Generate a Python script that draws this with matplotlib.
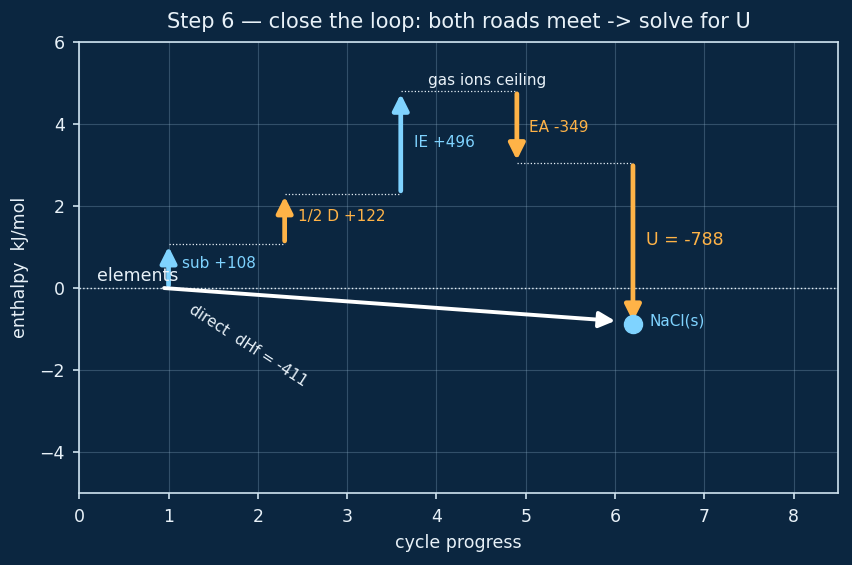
import matplotlib
matplotlib.use("Agg")
import matplotlib.pyplot as plt

BG = "#0b2640"
BLUE = "#7fd3ff"
ORANGE = "#ffb347"
FG = "#e8f1f8"

# step positions and energy levels (display units, compressed scale)
step_x = [1.0, 2.3, 3.6, 4.9, 6.2]
levels = [0.0, 1.08, 2.30, 4.80, 3.05, -0.88]
step_colors = [BLUE, ORANGE, BLUE, ORANGE, ORANGE]
step_labels = ["sub +108", "1/2 D +122", "IE +496", "EA -349", "U = -788"]
label_pos = [(1.15, 0.6), (2.45, 1.75), (3.75, 3.55), (5.04, 3.9), (6.35, 1.17)]
label_size = [11, 11, 11, 11, 12.5]

# direct route (elements -> NaCl)
direct_x = [0.95, 6.0]
direct_y = [0.0, -0.8]

plt.rcParams["font.family"] = ["DejaVu Sans"]
fig, ax = plt.subplots(figsize=(8.52, 5.65), dpi=100)
fig.patch.set_facecolor(BG)
ax.set_facecolor(BG)
fig.subplots_adjust(left=0.093, right=0.984, top=0.926, bottom=0.127)

ax.axhline(0, color=FG, lw=1.0, ls=":")

for i, x in enumerate(step_x):
    y0, y1 = levels[i], levels[i + 1]
    ax.annotate("", xy=(x, y1), xytext=(x, y0),
                arrowprops=dict(arrowstyle="-|>", color=step_colors[i], lw=3.4,
                                mutation_scale=24, shrinkA=2, shrinkB=2))
    ax.text(label_pos[i][0], label_pos[i][1], step_labels[i], color=step_colors[i],
            fontsize=label_size[i], va="center")
    if i < len(step_x) - 1:
        ax.plot([x, step_x[i + 1]], [y1, y1], color=FG, lw=0.9, ls=":")

ax.annotate("", xy=(direct_x[1], direct_y[1]), xytext=(direct_x[0], direct_y[0]),
            arrowprops=dict(arrowstyle="-|>", color="white", lw=2.8,
                            mutation_scale=24, shrinkA=0, shrinkB=0))
ax.plot([step_x[-1]], [levels[-1]], "o", color=BLUE, markersize=13, zorder=5)

ax.text(0.2, 0.3, "elements", color=FG, fontsize=12.5, va="center")
ax.text(3.9, 5.05, "gas ions ceiling", color=FG, fontsize=11, va="center")
ax.text(6.39, -0.8, "NaCl(s)", color=BLUE, fontsize=11, va="center")
ax.text(1.29, -0.33, "direct  dHf = -411", color=FG, fontsize=11,
        rotation=-33, rotation_mode="anchor", va="top", ha="left")

ax.set_xlim(0, 8.5)
ax.set_ylim(-5, 6)
ax.set_xticks(range(0, 9))
ax.set_yticks([-4, -2, 0, 2, 4, 6])
ax.grid(True, color="#8fb0c8", alpha=0.3, lw=0.8)
ax.set_axisbelow(True)
for s in ax.spines.values():
    s.set_color("#cfe3f0")
    s.set_linewidth(1.2)
ax.tick_params(colors="#cfe3f0", labelcolor=FG, labelsize=12.5, length=4.5, width=1.2, pad=6)
ax.set_xlabel("cycle progress", color=FG, fontsize=12.5, labelpad=6)
ax.set_ylabel("enthalpy  kJ/mol", color=FG, fontsize=12.5, labelpad=7)
ax.set_title("Step 6 \u2014 close the loop: both roads meet -> solve for U", color=FG,
             fontsize=15, pad=10)

fig.savefig("out.png", dpi=100, facecolor=BG)
